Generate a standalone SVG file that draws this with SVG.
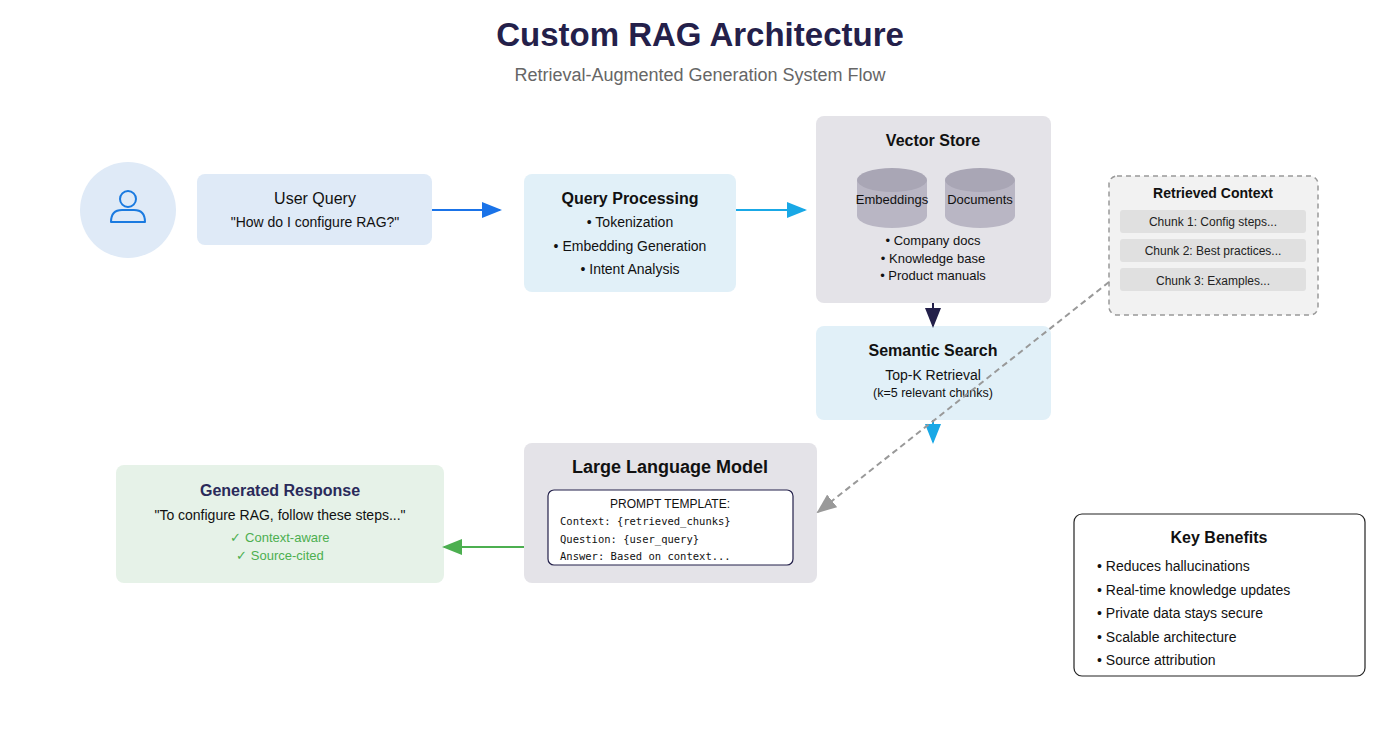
<svg xmlns="http://www.w3.org/2000/svg" width="1400" height="735" viewBox="0 0 1400 735">
<style>
text{font-family:"Liberation Sans",Arial,sans-serif;fill:#111}
.t{font-weight:bold;font-size:16px;text-anchor:middle}
.b{font-size:14px;text-anchor:middle}
.s{font-size:13px;text-anchor:middle}
.m{font-family:"DejaVu Sans Mono","Liberation Mono",monospace;font-size:10.5px}
.ch{font-size:12px;text-anchor:middle;fill:#222}
.g{font-size:13px;text-anchor:middle;fill:#4caf50}
.li{font-size:14px}
</style>
<defs>
<marker id="ab" markerWidth="10" markerHeight="8" refX="9" refY="4" orient="auto" viewBox="0 0 10 8"><path d="M0,0L10,4L0,8z" fill="#1a73e8"/></marker>
<marker id="ac" markerWidth="10" markerHeight="8" refX="9" refY="4" orient="auto" viewBox="0 0 10 8"><path d="M0,0L10,4L0,8z" fill="#19a8e6"/></marker>
<marker id="an" markerWidth="10" markerHeight="8" refX="9" refY="4" orient="auto" viewBox="0 0 10 8"><path d="M0,0L10,4L0,8z" fill="#23204a"/></marker>
<marker id="ag" markerWidth="10" markerHeight="8" refX="9" refY="4" orient="auto" viewBox="0 0 10 8"><path d="M0,0L10,4L0,8z" fill="#999"/></marker>
<marker id="agr" markerWidth="10" markerHeight="8" refX="9" refY="4" orient="auto" viewBox="0 0 10 8"><path d="M0,0L10,4L0,8z" fill="#4caf50"/></marker>
</defs>
<text x="700" y="46" style="font-size:33px;font-weight:bold;text-anchor:middle;fill:#24204a">Custom RAG Architecture</text>
<text x="700" y="81" style="font-size:18px;text-anchor:middle;fill:#666">Retrieval-Augmented Generation System Flow</text>

<g id="user">
<circle cx="128" cy="210" r="48" fill="#dfeaf7"/>
<circle cx="128" cy="199" r="8" fill="none" stroke="#1a7ae0" stroke-width="2"/>
<path d="M111,222 Q111,210 122,210 L134,210 Q145,210 145,222 Z" fill="none" stroke="#1a7ae0" stroke-width="2" stroke-linejoin="round"/>
</g>
<g id="user-query">
<rect x="197" y="174" width="235" height="71" rx="8" fill="#dfeaf7"/>
<text x="315" y="204" style="font-size:16px;text-anchor:middle">User Query</text>
<text x="315" y="227" class="b">"How do I configure RAG?"</text>
</g>
<g id="query-processing">
<rect x="524" y="174" width="212" height="118" rx="8" fill="#e1f0f8"/>
<text x="630" y="204" class="t">Query Processing</text>
<text x="630" y="227" class="b">• Tokenization</text>
<text x="630" y="251" class="b">• Embedding Generation</text>
<text x="630" y="274" class="b">• Intent Analysis</text>
</g>
<g id="vector-store">
<rect x="816" y="116" width="235" height="187" rx="8" fill="#e4e3e8"/>
<text x="933" y="146" class="t">Vector Store</text>
<g fill="#b9b6c4">
<rect x="857" y="180" width="70" height="36"/><ellipse cx="892" cy="216" rx="35" ry="12"/>
<ellipse cx="892" cy="180" rx="35" ry="12" fill="#a9a6b5"/>
<rect x="945" y="180" width="70" height="36"/><ellipse cx="980" cy="216" rx="35" ry="12"/>
<ellipse cx="980" cy="180" rx="35" ry="12" fill="#a9a6b5"/>
</g>
<text x="892" y="204" class="s">Embeddings</text>
<text x="980" y="204" class="s">Documents</text>
<text x="933" y="245" class="s">• Company docs</text>
<text x="933" y="263" class="s">• Knowledge base</text>
<text x="933" y="280" class="s">• Product manuals</text>
</g>
<g id="semantic-search">
<rect x="816" y="326" width="235" height="94" rx="8" fill="#e1f0f8"/>
<text x="933" y="356" class="t">Semantic Search</text>
<text x="933" y="380" class="b">Top-K Retrieval</text>
<text x="933" y="397" style="font-size:12.5px;text-anchor:middle">(k=5 relevant chunks)</text>
</g>
<g id="retrieved-context">
<rect x="1109" y="176" width="209" height="139" rx="8" fill="#f2f2f2" stroke="#999" stroke-width="1.5" stroke-dasharray="5,4"/>
<text x="1213" y="198" style="font-size:14px;font-weight:bold;text-anchor:middle">Retrieved Context</text>
<rect x="1120" y="210" width="186" height="23" rx="3" fill="#e0e0e0"/>
<rect x="1120" y="239" width="186" height="23" rx="3" fill="#e0e0e0"/>
<rect x="1120" y="268" width="186" height="23" rx="3" fill="#e0e0e0"/>
<text x="1213" y="226" class="ch">Chunk 1: Config steps...</text>
<text x="1213" y="255" class="ch">Chunk 2: Best practices...</text>
<text x="1213" y="285" class="ch">Chunk 3: Examples...</text>
</g>
<g id="llm">
<rect x="524" y="443" width="293" height="140" rx="8" fill="#e4e3e8"/>
<text x="670" y="473" style="font-size:18px;font-weight:bold;text-anchor:middle">Large Language Model</text>
<rect x="548" y="490" width="245" height="75" rx="6" fill="#fff" stroke="#23204a" stroke-width="1.2"/>
<text x="670" y="508" style="font-size:12px;text-anchor:middle">PROMPT TEMPLATE:</text>
<text x="560" y="525" class="m">Context: {retrieved_chunks}</text>
<text x="560" y="543" class="m">Question: {user_query}</text>
<text x="560" y="560" class="m">Answer: Based on context...</text>
</g>
<g id="generated-response">
<rect x="116" y="465" width="328" height="118" rx="8" fill="#e6f2e8"/>
<text x="280" y="496" class="t" style="fill:#2a2a5a">Generated Response</text>
<text x="280" y="520" class="b">"To configure RAG, follow these steps..."</text>
<text x="280" y="542" class="g">✓ Context-aware</text>
<text x="280" y="560" class="g">✓ Source-cited</text>
</g>
<g id="key-benefits">
<rect x="1074" y="514" width="291" height="162" rx="8" fill="#fff" stroke="#222" stroke-width="1.2"/>
<text x="1219" y="543" class="t">Key Benefits</text>
<text x="1097" y="571" class="li">• Reduces hallucinations</text>
<text x="1097" y="595" class="li">• Real-time knowledge updates</text>
<text x="1097" y="618" class="li">• Private data stays secure</text>
<text x="1097" y="642" class="li">• Scalable architecture</text>
<text x="1097" y="665" class="li">• Source attribution</text>
</g>

<g id="connectors" fill="none">
<line x1="432" y1="210" x2="500" y2="210" stroke="#1a73e8" stroke-width="2" marker-end="url(#ab)"/>
<line x1="736" y1="210" x2="805" y2="210" stroke="#19a8e6" stroke-width="2" marker-end="url(#ac)"/>
<line x1="933" y1="303" x2="933" y2="326" stroke="#23204a" stroke-width="2" marker-end="url(#an)"/>
<line x1="933" y1="420" x2="933" y2="442" stroke="#19a8e6" stroke-width="2" marker-end="url(#ac)"/>
<line x1="1109" y1="282" x2="818" y2="512" stroke="#999" stroke-width="2" stroke-dasharray="6,4" marker-end="url(#ag)"/>
<line x1="524" y1="547" x2="444" y2="547" stroke="#4caf50" stroke-width="2" marker-end="url(#agr)"/>
</g>
</svg>
